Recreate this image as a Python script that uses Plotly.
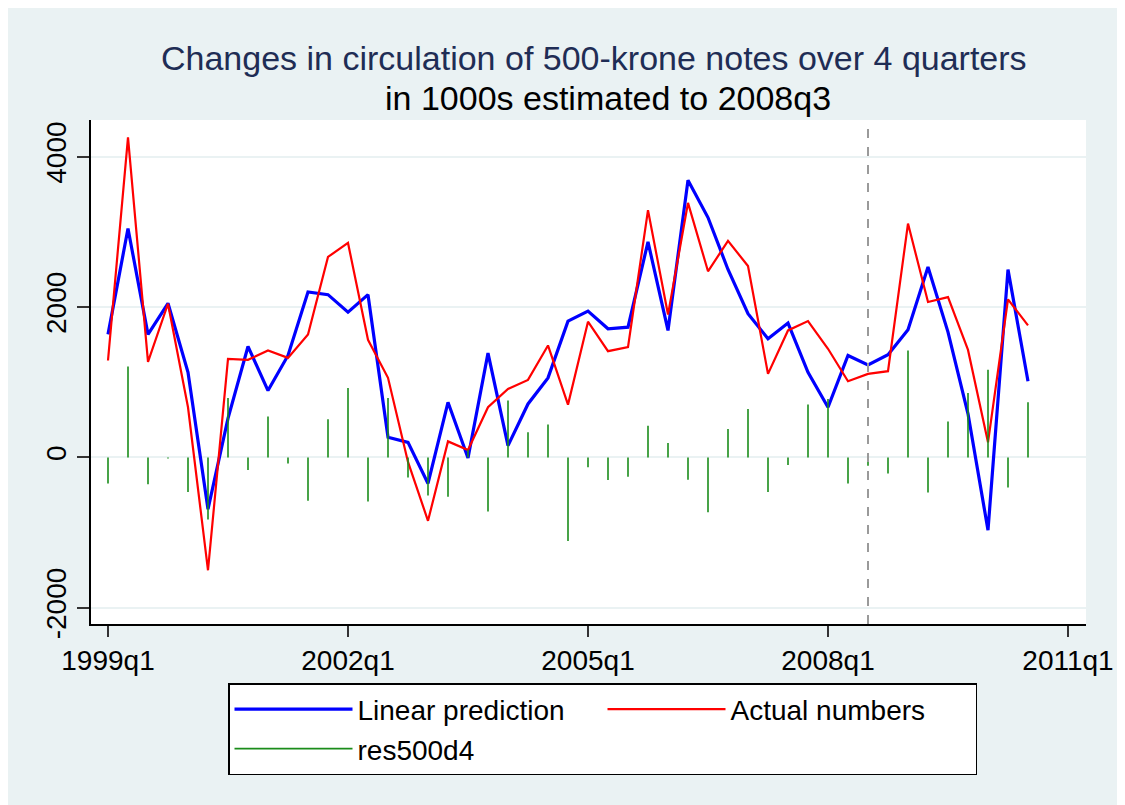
import plotly.graph_objects as go

# ---------------- data ----------------
start_year = 1999
n_quarters = 47
quarters = [f"{start_year + i // 4}q{i % 4 + 1}" for i in range(n_quarters)]

linear_prediction = [1636, 3045, 1636, 2050, 1133, -689, 520, 1476, 889, 1356,
                     2200, 2165, 1933, 2165, 267, 200, -347, 733, -9, 1387,
                     156, 711, 1058, 1813, 1947, 1711, 1733, 2867, 1689, 3689,
                     3191, 2500, 1911, 1578, 1787, 1133, 667, 1356, 1231, 1365,
                     1698, 2533, 1667, 580, -969, 2498, 1013]

actual_numbers = [1289, 4259, 1271, 2044, 667, -1502, 1311, 1298, 1422, 1324,
                  1636, 2667, 2853, 1565, 1058, -60, -844, 213, 98, 667,
                  911, 1031, 1489, 702, 1805, 1413, 1467, 3289, 1900, 3387,
                  2476, 2880, 2547, 1111, 1689, 1813, 1445, 1013, 1111, 1147,
                  3111, 2067, 2133, 1430, 200, 2102, 1756]

res500d4 = [-347, 1209, -356, -15, -462, -827, 791, -169, 543, -80,
            -578, 507, 924, -587, 791, -267, -507, -524, 100, -720,
            756, 333, 436, -1111, -133, -302, -258, 422, 191, -298,
            -729, 378, 644, -462, -102, 702, 778, -347, -111, -213,
            1422, -467, 476, 858, 1165, -400, 733]

x_tick_labels = ["1999q1", "2002q1", "2005q1", "2008q1", "2011q1"]
y_tick_values = [-2000, 0, 2000, 4000]
estimation_end = "2008q3"

# ---------------- derived positions ----------------
x_idx = list(range(n_quarters))
def q_index(label):
    y, q = label.split("q")
    return (int(y) - start_year) * 4 + int(q) - 1
x_tick_vals = [q_index(t) for t in x_tick_labels]
est_x = q_index(estimation_end)

spike_x, spike_y = [], []
for xi, r in zip(x_idx, res500d4):
    spike_x += [xi, xi, None]
    spike_y += [0, r, None]

# ---------------- layout geometry (screen pixels; page body offset 8px) ----------------
OFF = 8
W, H = 1125, 805
L, R, T, B = 91, 1086, 120, 624          # plot area in screenshot coords
pw, ph = R - L, B - T
def px(xs):
    return (xs - L) / pw
def py(ys):
    return (B - ys) / ph

FONT = "Liberation Sans, Arial, sans-serif"
BG = "#EAF2F3"

fig = go.Figure()
fig.add_trace(go.Scatter(x=x_idx, y=linear_prediction, mode="lines",
                         name="Linear prediction",
                         line=dict(color="#0000FF", width=3.2)))
fig.add_trace(go.Scatter(x=x_idx, y=actual_numbers, mode="lines",
                         name="Actual numbers",
                         line=dict(color="#FF0000", width=2.2)))
fig.add_trace(go.Scatter(x=spike_x, y=spike_y, mode="lines",
                         name="res500d4", connectgaps=False,
                         line=dict(color="#1A8C1A", width=1.6)))

# dashed estimation line
fig.add_shape(type="line", xref="x", yref="paper",
              x0=est_x, x1=est_x, y0=0, y1=1,
              line=dict(color="#9A9A9A", width=2, dash="dash"))

# titles
fig.add_annotation(text="Changes in circulation of 500-krone notes over 4 quarters",
                   xref="paper", yref="paper", x=px(594), y=py(58),
                   xanchor="center", yanchor="middle", showarrow=False,
                   font=dict(family=FONT, size=34, color="#1F2D55"))
fig.add_annotation(text="in 1000s estimated to 2008q3",
                   xref="paper", yref="paper", x=px(608), y=py(98),
                   xanchor="center", yanchor="middle", showarrow=False,
                   font=dict(family=FONT, size=34, color="#000000"))

fig.update_layout(
    width=W, height=H,
    margin=dict(l=L - OFF, r=W - R + OFF, t=T - OFF, b=H - B + OFF, pad=0),
    paper_bgcolor=BG,
    plot_bgcolor="white",
    font=dict(family=FONT, size=28, color="#000000"),
    showlegend=True,
    legend=dict(orientation="h", x=px(228), y=py(683), xanchor="left", yanchor="top",
                bgcolor="white", bordercolor="#000000", borderwidth=1.5,
                font=dict(family=FONT, size=28, color="#000000"),
                entrywidth=240, entrywidthmode="pixels",
                itemwidth=118, tracegroupgap=10),
)

fig.update_xaxes(range=[-0.85, 48.9], tickmode="array",
                 tickvals=x_tick_vals, ticktext=x_tick_labels,
                 showgrid=False, zeroline=False,
                 showline=True, linecolor="#000000", linewidth=1.5,
                 ticks="outside", ticklen=11, tickwidth=1.5, tickcolor="#333333",
                 tickfont=dict(family=FONT, size=28, color="#000000"))
fig.update_yaxes(range=[-2217, 4489], tickmode="array",
                 tickvals=y_tick_values, ticktext=[str(v) for v in y_tick_values],
                 tickangle=-90,
                 showgrid=True, gridcolor=BG, gridwidth=2,
                 zeroline=True, zerolinecolor=BG, zerolinewidth=2,
                 showline=True, linecolor="#000000", linewidth=1.5,
                 ticks="outside", ticklen=12, tickwidth=1.5, tickcolor="#333333",
                 ticklabelstandoff=0,
                 tickfont=dict(family=FONT, size=28, color="#000000"))

fig.write_html("out.html")
